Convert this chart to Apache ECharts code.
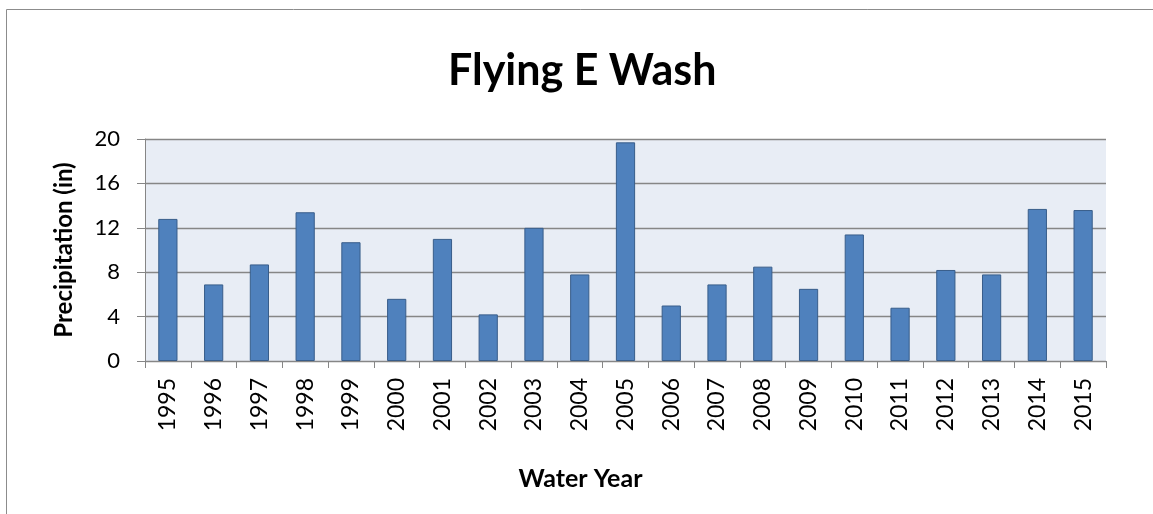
<!DOCTYPE html>
<html>
<head>
<meta charset="utf-8">
<script src="https://cdn.jsdelivr.net/npm/echarts@6/dist/echarts.min.js"></script>
<style>
  html, body { margin: 0; padding: 0; background: #fff; }
  #main { width: 1153px; height: 514px; }
</style>
</head>
<body>
<div id="main"></div>
<script>
var years = ['1995', '1996', '1997', '1998', '1999', '2000', '2001', '2002', '2003', '2004', '2005',
             '2006', '2007', '2008', '2009', '2010', '2011', '2012', '2013', '2014', '2015'];
var precip = [12.8, 6.9, 8.7, 13.4, 10.7, 5.6, 11.0, 4.2, 12.0, 7.8, 19.7,
              5.0, 6.9, 8.5, 6.5, 11.4, 4.8, 8.2, 7.8, 13.7, 13.6];
var yTicks = [0, 4, 8, 12, 16, 20];

var myChart = echarts.init(document.getElementById('main'));
var font = 'Lato, "Open Sans", sans-serif';

var option = {
    backgroundColor: '#fff',
    animation: false,
    graphic: [{
        type: 'rect',
        shape: { x: 6.5, y: 9.5, width: 1300, height: 700 },
        style: { fill: 'none', stroke: '#8c8c8c', lineWidth: 1 },
        silent: true
    }],
    title: {
        text: 'Flying E Wash',
        left: 443,
        top: 45,
        textStyle: { fontFamily: font, fontSize: 43, fontWeight: 'bold', color: '#000' }
    },
    grid: {
        left: 145,
        right: 47,
        top: 139,
        bottom: 153,
        show: true,
        backgroundColor: '#e8edf5',
        borderWidth: 0
    },
    xAxis: {
        type: 'category',
        data: years,
        name: 'Water Year',
        nameLocation: 'middle',
        nameGap: 105,
        nameTextStyle: { fontFamily: font, fontSize: 25, fontWeight: 'bold', color: '#000', padding: [0, 90, 0, 0] },
        axisLine: { lineStyle: { color: '#868686', width: 1 } },
        axisTick: { show: true, length: 7, lineStyle: { color: '#868686' } },
        axisLabel: { rotate: 90, margin: 17, fontFamily: font, fontSize: 23, color: '#000' },
        splitLine: { show: false }
    },
    yAxis: {
        type: 'value',
        min: 0,
        max: 20,
        interval: 4,
        name: 'Precipitation (in)',
        nameLocation: 'middle',
        nameGap: 69,
        nameTextStyle: { fontFamily: font, fontSize: 24, fontWeight: 'bold', color: '#000' },
        axisLine: { show: true, lineStyle: { color: '#868686', width: 1 } },
        axisTick: { show: true, length: 8, lineStyle: { color: '#868686' } },
        axisLabel: {
            margin: 25,
            fontFamily: font,
            fontSize: 22,
            color: '#000',
            formatter: function (v) { return yTicks.indexOf(v) >= 0 ? String(v) : ''; }
        },
        splitLine: { show: true, lineStyle: { color: '#868686', width: 1.3 } }
    },
    series: [{
        type: 'bar',
        data: precip,
        barWidth: '42%',
        itemStyle: { color: '#4f81bd', borderColor: '#385d8a', borderWidth: 1 }
    }]
};

myChart.setOption(option);
</script>
</body>
</html>
